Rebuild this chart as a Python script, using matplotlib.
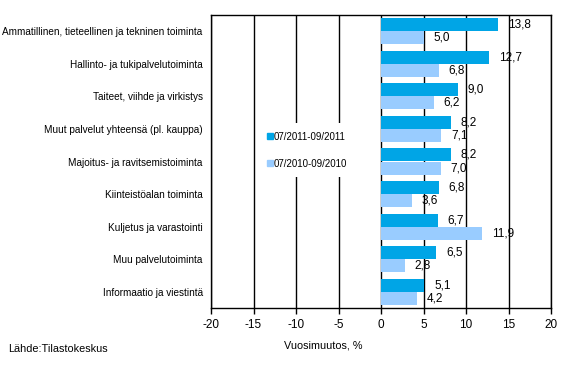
import numpy as np
import matplotlib
matplotlib.use("Agg")
import matplotlib.pyplot as plt
from matplotlib.lines import Line2D

plt.rcParams['font.family'] = ['Liberation Sans', 'DejaVu Sans']

# categories top to bottom
categories = [
    "Ammatillinen, tieteellinen ja tekninen toiminta",
    "Hallinto- ja tukipalvelutoiminta",
    "Taiteet, viihde ja virkistys",
    "Muut palvelut yhteensä (pl. kauppa)",
    "Majoitus- ja ravitsemistoiminta",
    "Kiinteistöalan toiminta",
    "Kuljetus ja varastointi",
    "Muu palvelutoiminta",
    "Informaatio ja viestintä",
]
val_2011 = [13.8, 12.7, 9.0, 8.2, 8.2, 6.8, 6.7, 6.5, 5.1]
val_2010 = [5.0, 6.8, 6.2, 7.1, 7.0, 3.6, 11.9, 2.8, 4.2]
series_names = ["07/2011-09/2011", "07/2010-09/2010"]
xticks = [-20, -15, -10, -5, 0, 5, 10, 15, 20]

dark = "#00A5E6"
light = "#99CCFF"

fig = plt.figure(figsize=(5.68, 3.73), dpi=100)
ax = fig.add_axes([211 / 568, 1 - 308 / 373, 340 / 568, 293 / 373])

n = len(categories)
ypos = np.arange(n)
h = 0.40
ax.barh(ypos - h / 2, val_2011, height=h, color=dark, zorder=3)
ax.barh(ypos + h / 2, val_2010, height=h, color=light, zorder=3)

for i in range(n):
    ax.annotate(f"{val_2011[i]:.1f}".replace(".", ","), (val_2011[i], ypos[i] - h / 2),
                xytext=(7, 0), textcoords="offset points", va="center", ha="left",
                fontsize=8.5, zorder=5)
    ax.annotate(f"{val_2010[i]:.1f}".replace(".", ","), (val_2010[i], ypos[i] + h / 2),
                xytext=(7, 0), textcoords="offset points", va="center", ha="left",
                fontsize=8.5, zorder=5)

ax.set_xlim(-20, 20)
ax.set_ylim(n - 0.5, -0.5)
ax.set_xticks(xticks)
ax.set_xticklabels([str(t) for t in xticks], fontsize=8.5)
ax.set_yticks(ypos)
ax.set_yticklabels(categories, fontsize=7.2)
ax.tick_params(axis="y", length=0, pad=6)
ax.tick_params(axis="x", length=4, width=1, direction="out", pad=4)
for t in xticks:
    ax.axvline(t, color="black", lw=1, zorder=1)
for s in ax.spines.values():
    s.set_color("black")
    s.set_linewidth(1)

handles = [Line2D([], [], marker="s", ls="none", color=dark, markersize=4.5),
           Line2D([], [], marker="s", ls="none", color=light, markersize=4.5)]
leg = ax.legend(handles, series_names, loc="upper left",
                bbox_to_anchor=(42 / 340, 1 - 103 / 293), fontsize=7,
                frameon=True, framealpha=1, edgecolor="none", fancybox=False,
                handlelength=0.6, handletextpad=0.1, labelspacing=1.75,
                borderpad=0.9)
leg.set_zorder(4)

fig.text(323 / 568, 1 - 345 / 373, "Vuosimuutos, %", ha="center", va="center", fontsize=7.8)
fig.text(8 / 568, 1 - 349 / 373, "Lähde:Tilastokeskus", ha="left", va="center", fontsize=7.8)

fig.savefig("out.png", dpi=100)
